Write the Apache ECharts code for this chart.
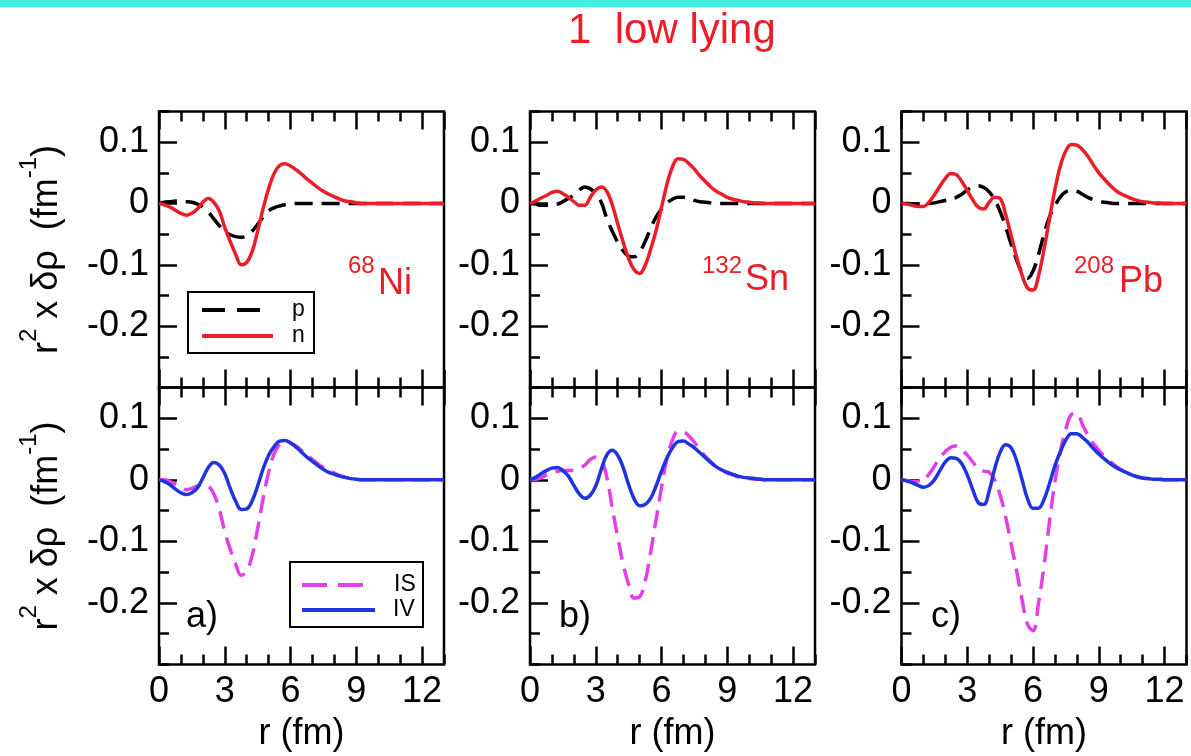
<!DOCTYPE html>
<html>
<head>
<meta charset="utf-8">
<title>1 low lying - transition densities</title>
<script src="https://cdn.jsdelivr.net/npm/echarts@6.0.0/dist/echarts.min.js"></script>
<style>
  html, body { margin: 0; padding: 0; background: #ffffff; }
  #chart { width: 1191px; height: 756px; }
</style>
</head>
<body>
<div id="chart"></div>
<script>
// Radial mesh (fm) shared by all curves
const r = [0,0.25,0.5,0.75,1,1.25,1.5,1.75,2,2.25,2.5,2.75,3,3.25,3.5,3.75,4,4.25,4.5,4.75,
  5,5.25,5.5,5.75,6,6.25,6.5,6.75,7,7.25,7.5,7.75,8,8.25,8.5,8.75,9,9.25,9.5,9.75,
  10,10.25,10.5,10.75,11,11.25,11.5,11.75,12,12.25,12.5,12.75,13];

// 68Ni: proton / neutron transition densities  r^2 x drho (fm^-1)
const niP = [0,0.002,0.003,0.004,0.004,0.003,0.002,-0.001,-0.006,-0.014,-0.025,-0.036,-0.045,-0.051,-0.054,-0.055,
  -0.052,-0.045,-0.034,-0.022,-0.012,-0.007,-0.004,-0.002,-0.001,
  0,0,0,0,0,0,0,0, 0,0,0,0,0,0,0,0, 0,0,0,0,0,0,0,0, 0,0,0,0];
const niN = [0,-0.002,-0.006,-0.011,-0.016,-0.019,-0.016,-0.009,0.002,0.008,0.002,-0.012,-0.039,-0.062,-0.083,-0.100,
  -0.096,-0.078,-0.045,-0.008,0.024,0.049,0.062,0.065,0.061,0.055,0.048,0.040,0.033,0.026,0.020,0.015,
  0.011,0.007,0.004,0.003,0.001,
  0,0,0,0,0,0,0,0, 0,0,0,0,0,0,0,0];
// 68Ni: isoscalar / isovector
const niIS = [0,0,-0.003,-0.007,-0.012,-0.016,-0.014,-0.010,-0.007,-0.010,-0.023,-0.048,-0.084,-0.113,-0.137,-0.155,
  -0.148,-0.123,-0.079,-0.030,0.012,0.042,0.058,0.063,0.060,0.055,0.048,0.040,0.033,0.026,0.020,0.015,
  0.011,0.007,0.004,0.003,0.001,
  0,0,0,0,0,0,0,0, 0,0,0,0,0,0,0,0];
const niIV = [0,-0.003,-0.008,-0.015,-0.021,-0.024,-0.021,-0.013,0.003,0.020,0.028,0.024,0.010,-0.014,-0.035,-0.048,
  -0.047,-0.034,-0.010,0.018,0.040,0.054,0.063,0.064,0.060,0.053,0.045,0.037,0.030,0.023,0.017,0.012,
  0.009,0.006,0.004,0.002,0.001,
  0,0,0,0,0,0,0,0, 0,0,0,0,0,0,0,0];

// 132Sn
const snP = [0,-0.001,-0.003,-0.003,-0.002,-0.001,0.003,0.008,0.014,0.022,0.027,0.024,0.015,0.002,-0.024,-0.045,
  -0.063,-0.077,-0.086,-0.087,-0.079,-0.062,-0.041,-0.022,-0.009,0.001,0.007,0.010,0.010,0.008,0.005,0.003,
  0.002,0.001,
  0,0,0,0,0,0,0,0, 0,0,0,0,0,0,0,0, 0,0,0];
const snN = [0,0.004,0.009,0.013,0.018,0.020,0.016,0.010,0.003,-0.003,-0.003,0.010,0.022,0.027,0.020,-0.002,
  -0.033,-0.063,-0.090,-0.108,-0.114,-0.101,-0.075,-0.044,-0.006,0.032,0.060,0.073,0.072,0.065,0.056,0.045,
  0.036,0.027,0.020,0.015,0.010,0.007,0.005,0.003,0.002,0.001,0.001,
  0,0,0,0,0,0,0,0,0,0];
const snIS = [0,0.001,0.003,0.008,0.012,0.014,0.015,0.015,0.016,0.019,0.024,0.033,0.037,0.032,0.005,-0.045,
  -0.093,-0.137,-0.170,-0.192,-0.190,-0.165,-0.118,-0.065,-0.012,0.035,0.065,0.079,0.078,0.071,0.061,0.049,
  0.038,0.029,0.021,0.016,0.011,0.008,0.005,0.003,0.002,0.001,0.001,
  0,0,0,0,0,0,0,0,0,0];
const snIV = [0,0.004,0.010,0.015,0.019,0.020,0.015,0.006,-0.009,-0.023,-0.030,-0.025,-0.010,0.017,0.040,0.048,
  0.040,0.020,-0.008,-0.031,-0.042,-0.040,-0.030,-0.010,0.014,0.036,0.052,0.062,0.063,0.058,0.052,0.044,
  0.036,0.028,0.021,0.016,0.012,0.009,0.006,0.004,0.003,0.002,0.001,
  0,0,0,0,0,0,0,0,0,0];

// 208Pb
const pbP = [0,0,-0.001,-0.001,-0.001,0,0.001,0.003,0.005,0.007,0.010,0.015,0.022,0.027,0.029,0.026,
  0.019,0.006,-0.013,-0.038,-0.066,-0.092,-0.113,-0.122,-0.110,-0.083,-0.050,-0.022,-0.004,0.011,0.019,0.022,
  0.020,0.015,0.010,0.006,0.003,0.002,0.001,
  0,0,0,0,0,0,0,0,0,0,0,0,0,0];
const pbN = [0,-0.001,-0.003,-0.005,-0.005,0.002,0.014,0.028,0.041,0.049,0.047,0.036,0.021,0.006,-0.006,-0.009,
  0.002,0.010,0.008,-0.018,-0.052,-0.087,-0.117,-0.138,-0.141,-0.118,-0.075,-0.025,0.023,0.062,0.086,0.096,
  0.095,0.088,0.077,0.063,0.050,0.040,0.030,0.022,0.016,0.012,0.008,0.005,0.003,0.002,0.001,0.001,
  0,0,0,0,0];
const pbIS = [0,-0.001,-0.003,-0.003,-0.001,0.009,0.022,0.036,0.046,0.053,0.055,0.049,0.040,0.029,0.018,0.014,
  0.012,0.000,-0.025,-0.060,-0.104,-0.148,-0.195,-0.235,-0.245,-0.200,-0.140,-0.068,-0.003,0.046,0.083,0.106,
  0.108,0.090,0.073,0.059,0.048,0.038,0.030,0.023,0.017,0.012,0.008,0.005,0.003,0.002,0.001,0.001,
  0,0,0,0,0];
const pbIV = [0,-0.002,-0.005,-0.009,-0.012,-0.009,0.000,0.015,0.029,0.036,0.035,0.026,0.008,-0.016,-0.037,-0.040,
  -0.018,0.018,0.045,0.057,0.052,0.031,0.000,-0.031,-0.046,-0.046,-0.032,-0.006,0.023,0.046,0.065,0.075,
  0.075,0.069,0.061,0.051,0.042,0.034,0.027,0.021,0.016,0.012,0.008,0.005,0.003,0.002,0.001,0.001,
  0,0,0,0,0];

// Axis ticks
const xMajor = 3, xMinor = 1, xMin = 0, xMax = 13;
const yMajor = 0.1, yMinor = 0.05, yMin = -0.3, yMax = 0.15;

const FONT = "'Liberation Sans', Arial, Helvetica, sans-serif";
const RED = '#e91e27', MAGENTA = '#e23fe6', BLUE = '#1f33de', BLACK = '#000000';

const panelLeft = [159, 530, 901.5];
const panelWidth = 285;
const rowTop = [111.5, 387.5];
const rowHeight = [276, 277];

const panels = [
  { row: 0, col: 0, dashed: niP, solid: niN, dashName: 'p', solidName: 'n', dashColor: BLACK, solidColor: RED },
  { row: 0, col: 1, dashed: snP, solid: snN, dashName: 'p', solidName: 'n', dashColor: BLACK, solidColor: RED },
  { row: 0, col: 2, dashed: pbP, solid: pbN, dashName: 'p', solidName: 'n', dashColor: BLACK, solidColor: RED },
  { row: 1, col: 0, dashed: niIS, solid: niIV, dashName: 'IS', solidName: 'IV', dashColor: MAGENTA, solidColor: BLUE },
  { row: 1, col: 1, dashed: snIS, solid: snIV, dashName: 'IS', solidName: 'IV', dashColor: MAGENTA, solidColor: BLUE },
  { row: 1, col: 2, dashed: pbIS, solid: pbIV, dashName: 'IS', solidName: 'IV', dashColor: MAGENTA, solidColor: BLUE }
];

const Y_NAME = '{m|r}{s|2}{m| x δρ  (fm}{s|-1}{m|)}';

function xAxis(g, position, interval, tickLen, showLabel, name) {
  return {
    type: 'value', gridIndex: g, position: position,
    min: xMin, max: xMax, interval: interval,
    axisLine: { show: false, onZero: false },
    axisTick: { show: true, inside: true, length: tickLen, lineStyle: { color: BLACK, width: 2.5 } },
    axisLabel: { show: showLabel, showMaxLabel: false, margin: 10, fontSize: 36, fontFamily: FONT, color: BLACK },
    splitLine: { show: false },
    name: name, nameLocation: 'middle', nameGap: 52,
    nameTextStyle: { fontSize: 36, fontFamily: FONT, color: BLACK }
  };
}

function yAxis(g, interval, tickLen, showLabel, name) {
  return {
    type: 'value', gridIndex: g, position: 'left',
    min: yMin, max: yMax, interval: interval,
    axisLine: { show: false, onZero: false },
    axisTick: { show: true, inside: true, length: tickLen, lineStyle: { color: BLACK, width: 2.5 } },
    axisLabel: {
      show: showLabel, showMinLabel: false, showMaxLabel: false, margin: 10,
      fontSize: 36, fontFamily: FONT, color: BLACK,
      formatter: v => (Math.abs(v) < 1e-9 ? '0' : v.toFixed(1))
    },
    splitLine: { show: false },
    name: name, nameLocation: 'middle', nameGap: 94,
    nameTextStyle: {
      fontSize: 36, fontFamily: FONT, color: BLACK,
      rich: {
        m: { fontSize: 36, fontFamily: FONT, color: BLACK, verticalAlign: 'bottom' },
        s: { fontSize: 24, fontFamily: FONT, color: BLACK, verticalAlign: 'top', padding: [0, 0, 24, 0] }
      }
    }
  };
}

function curve(g, values, color, dashed, name) {
  return {
    type: 'line', name: name, xAxisIndex: g * 4, yAxisIndex: g * 2,
    data: r.map((x, i) => [x, values[i]]),
    symbol: 'none', smooth: 0.4, silent: true, z: dashed ? 2 : 3,
    lineStyle: { color: color, width: 3.5, type: dashed ? [18, 9] : 'solid', cap: 'butt' }
  };
}

const grids = [], xAxes = [], yAxes = [], series = [];
panels.forEach((p, g) => {
  const bottomRow = p.row === 1;
  grids.push({
    left: panelLeft[p.col], top: rowTop[p.row], width: panelWidth, height: rowHeight[p.row],
    show: true, borderColor: BLACK, borderWidth: 2.5, backgroundColor: 'transparent'
  });
  xAxes.push(xAxis(g, 'bottom', xMajor, 18, bottomRow, bottomRow ? 'r (fm)' : ''));
  xAxes.push(xAxis(g, 'bottom', xMinor, 10, false, ''));
  xAxes.push(xAxis(g, 'top', xMajor, 18, false, ''));
  xAxes.push(xAxis(g, 'top', xMinor, 10, false, ''));
  yAxes.push(yAxis(g, yMajor, 18, true, p.col === 0 ? Y_NAME : ''));
  yAxes.push(yAxis(g, yMinor, 10, false, ''));
  series.push(curve(g, p.dashed, p.dashColor, true, p.dashName));
  series.push(curve(g, p.solid, p.solidColor, false, p.solidName));
});

function label(x, y, text, size, color) {
  return {
    type: 'text', x: x, y: y, z: 100,
    style: { text: text, fontSize: size, fontFamily: FONT, fill: color, align: 'left', verticalAlign: 'middle' }
  };
}
function legendLine(x1, x2, y, color, dash) {
  return {
    type: 'line', z: 101, shape: { x1: x1, y1: y, x2: x2, y2: y },
    style: { stroke: color, lineWidth: 4, lineDash: dash || null, lineCap: 'butt' }
  };
}
function legendBox(x, y, w, h) {
  return {
    type: 'rect', z: 100, shape: { x: x, y: y, width: w, height: h },
    style: { fill: '#ffffff', stroke: BLACK, lineWidth: 2 }
  };
}

const graphic = [
  { type: 'rect', z: 100, shape: { x: 0, y: 0, width: 1191, height: 7 }, style: { fill: '#45eee1' } },
  label(568, 31.5, '1  low lying', 42, RED),

  // nucleus tags
  label(348, 266.5, '68', 24, RED), label(378, 284, 'Ni', 36, RED),
  label(702, 266.5, '132', 24, RED), label(745, 280.5, 'Sn', 36, RED),
  label(1074, 266.5, '208', 24, RED), label(1119, 282.5, 'Pb', 36, RED),

  // panel letters
  label(186, 617, 'a)', 36, BLACK),
  label(559, 617, 'b)', 36, BLACK),
  label(931, 617, 'c)', 36, BLACK),

  // p / n key
  legendBox(188, 292, 126, 61),
  legendLine(202, 262, 310, BLACK, [23, 12]),
  legendLine(202, 273, 336, RED),
  label(292, 310, 'p', 23, BLACK),
  label(292, 336, 'n', 23, BLACK),

  // IS / IV key
  legendBox(290, 562, 133, 65),
  legendLine(302, 363, 585, MAGENTA, [25, 11]),
  legendLine(302, 375, 610, BLUE),
  label(394, 585, 'IS', 23, BLACK),
  label(393, 610, 'IV', 23, BLACK)
];

const chart = echarts.init(document.getElementById('chart'), null, { renderer: 'canvas' });
chart.setOption({
  backgroundColor: '#ffffff',
  animation: false,
  grid: grids,
  xAxis: xAxes,
  yAxis: yAxes,
  series: series,
  graphic: graphic
});
</script>
</body>
</html>
